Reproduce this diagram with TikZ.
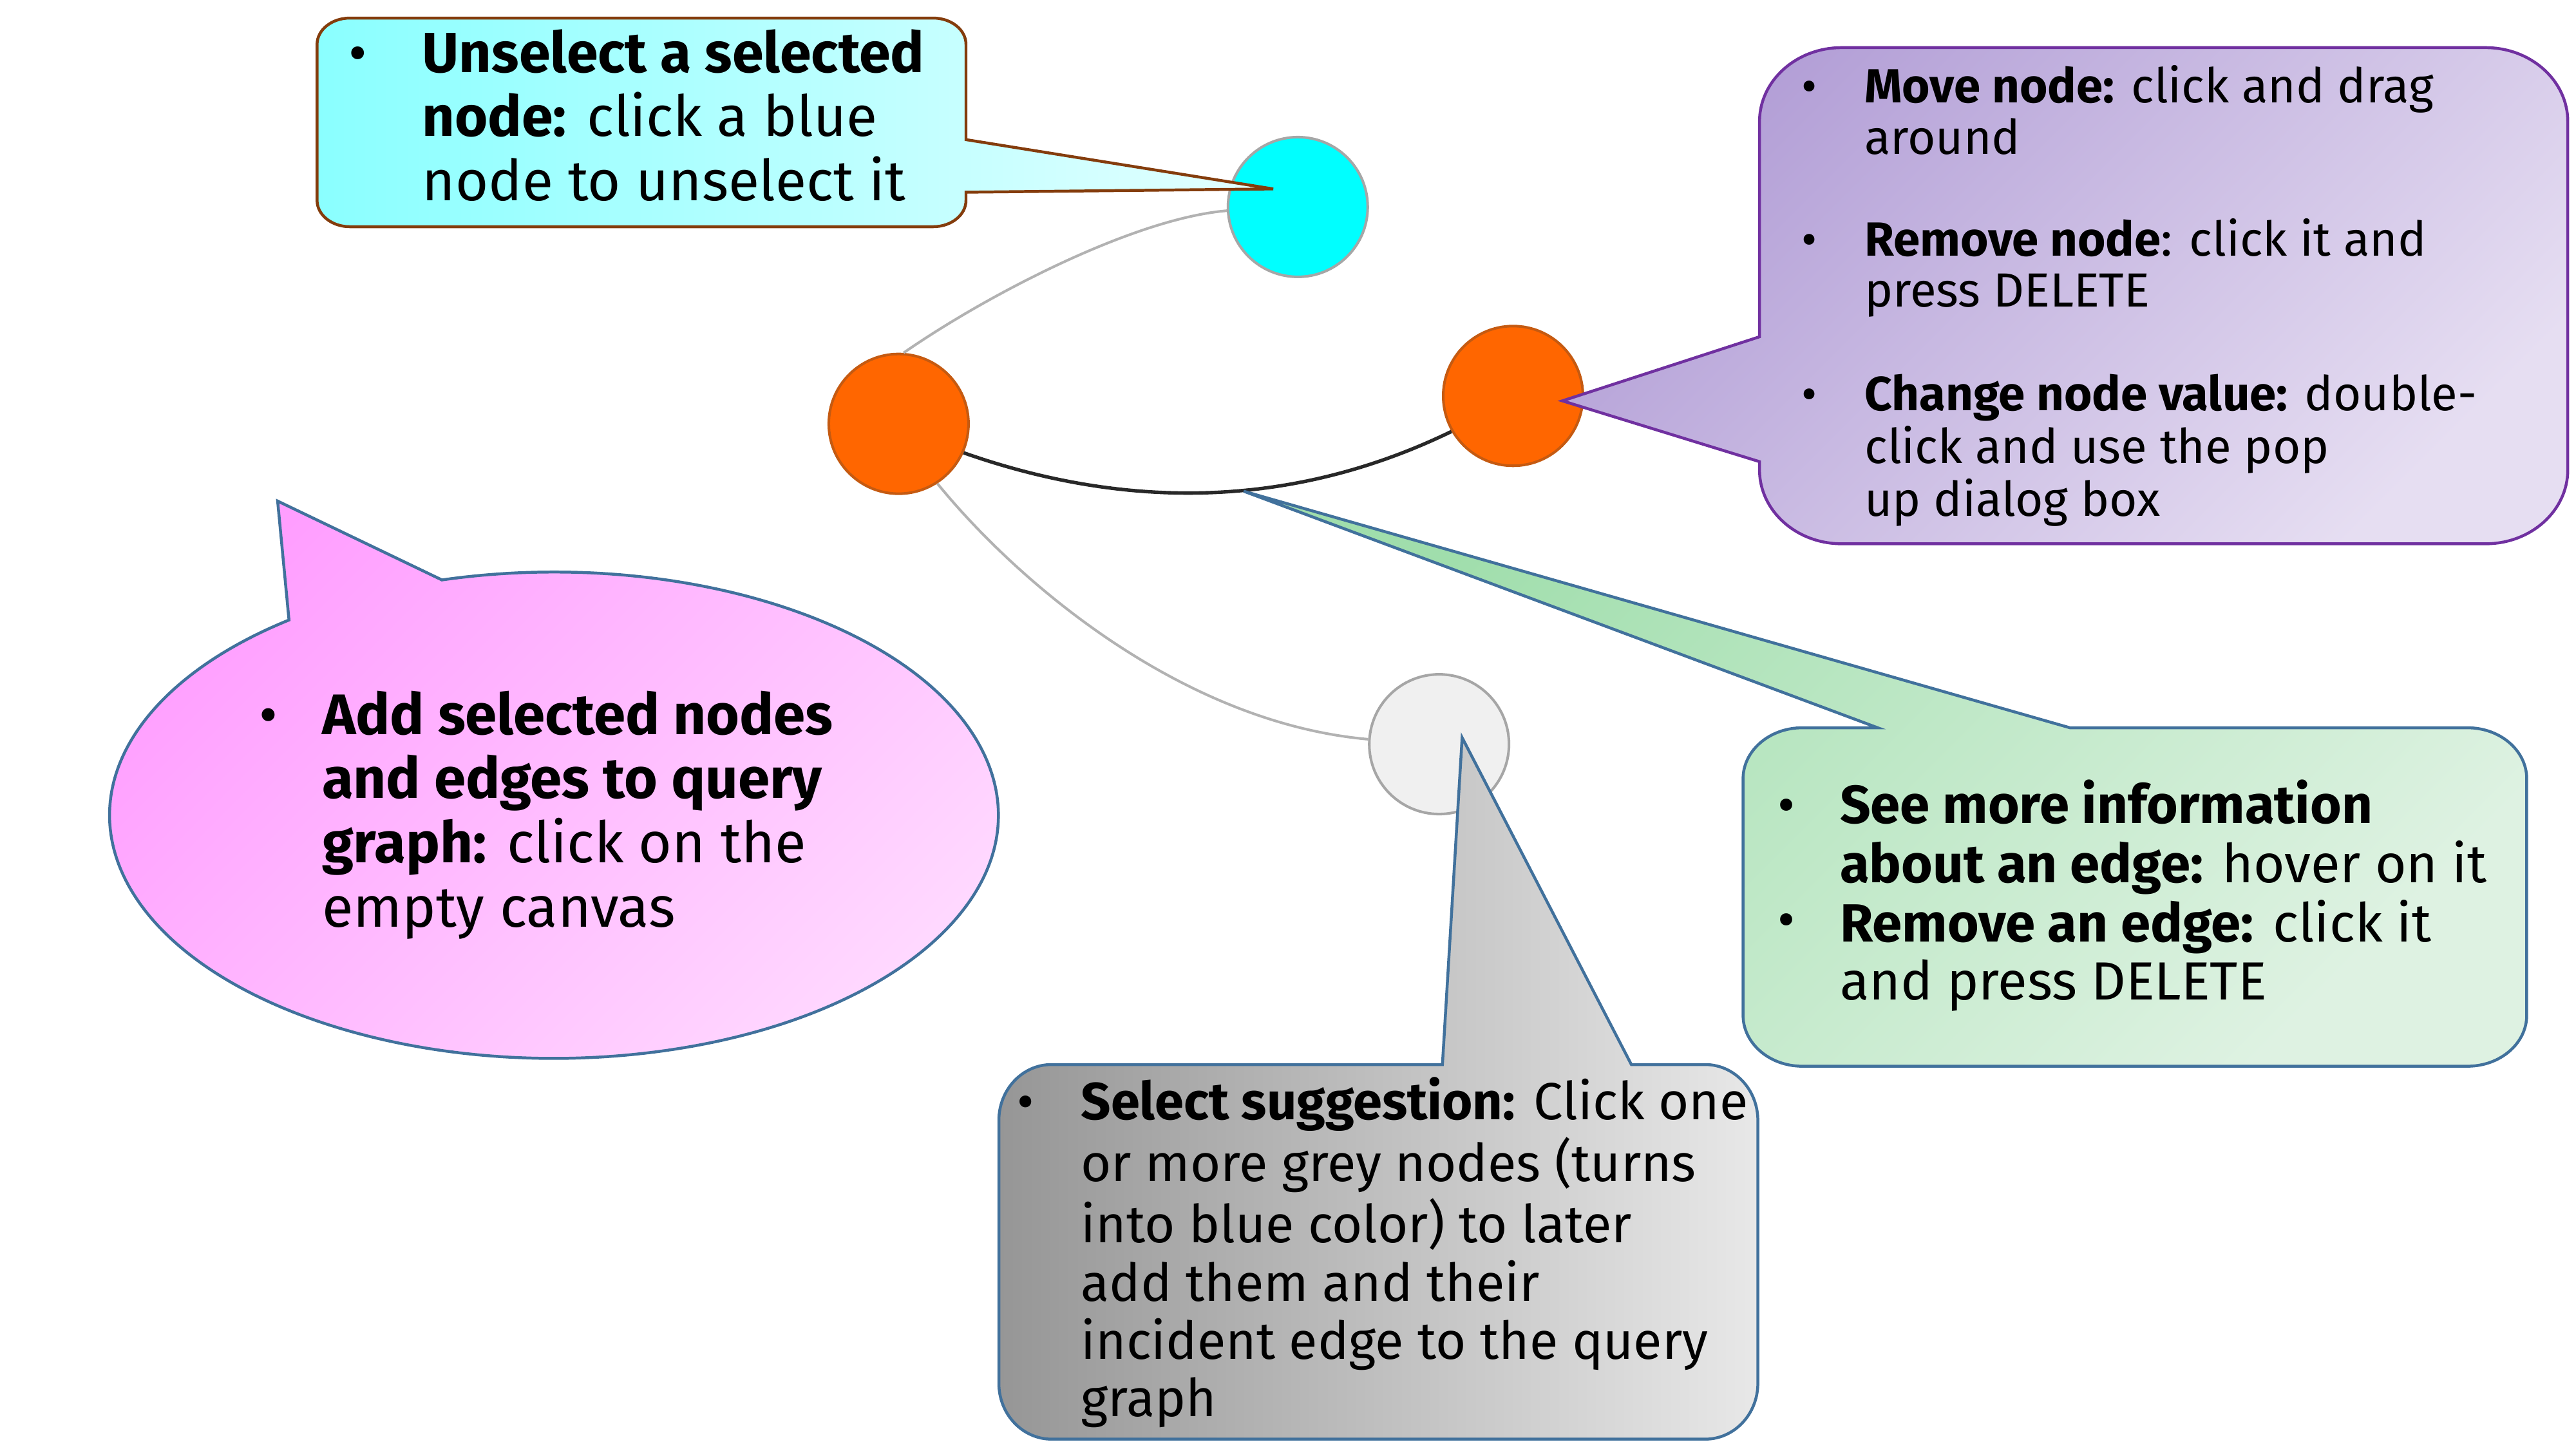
\documentclass[tikz,border=0pt]{standalone}
\usepackage{fontspec}
\setmainfont{Fira Sans}
\definecolor{cyF}{RGB}{0,255,255}
\definecolor{cyL}{RGB}{138,255,255}
\definecolor{cyR}{RGB}{228,255,255}
\definecolor{brownB}{RGB}{132,60,12}
\definecolor{puD}{RGB}{178,158,214}
\definecolor{puL}{RGB}{230,222,242}
\definecolor{puB}{RGB}{112,48,160}
\definecolor{grD}{RGB}{160,222,172}
\definecolor{grL}{RGB}{222,242,226}
\definecolor{blB}{RGB}{65,113,156}
\definecolor{piD}{RGB}{255,158,255}
\definecolor{piL}{RGB}{255,218,255}
\definecolor{gyD}{RGB}{150,150,150}
\definecolor{gyL}{RGB}{232,232,232}
\definecolor{orF}{RGB}{255,102,0}
\definecolor{orB}{RGB}{197,90,17}
\definecolor{ndB}{RGB}{166,166,166}
\definecolor{ndG}{RGB}{240,240,240}
\definecolor{edG}{RGB}{178,178,178}
\definecolor{edK}{RGB}{40,40,40}
\begin{document}
\begin{tikzpicture}[x=0.01cm,y=-0.01cm,
  gnode/.style={circle, inner sep=0pt, minimum size=0.85cm, line width=0.45pt},
  gedge/.style={draw=edG, line width=0.45pt},
  kedge/.style={draw=edK, line width=0.6pt},
  callout/.style={line width=0.5pt, line join=miter},
  txt/.style={anchor=base west, inner sep=0pt, outer sep=0pt},
  bul/.style={anchor=base, inner sep=0pt, outer sep=0pt}]
\useasboundingbox (0,0) rectangle (1568,882);
\fill[white] (0,0) rectangle (1568,882);

% graph nodes
\node[gnode, fill=cyF, draw=ndB] (cy) at (790,126) {};
\node[gnode, fill=orF, draw=orB] (o1) at (547,258) {};
\node[gnode, fill=orF, draw=orB] (o2) at (921,241) {};
\node[gnode, fill=ndG, draw=ndB] (gr) at (876,453) {};

% edges
\draw[gedge] (o1.86) .. controls (600,180) and (690,133) .. (cy.183);
\draw[kedge] (o1.336) .. controls (690,312) and (790,308) .. (o2.210);
\draw[gedge] (o1.303) .. controls (620,355) and (720,440) .. (gr.176);

% pointer tips
\coordinate (ctip) at (775,115);
\coordinate (ptip) at (951,244);
\coordinate (gtip) at (757,299);
\coordinate (ktip) at (169,305);
\coordinate (ytip) at (890,449);

% cyan callout
\draw[callout, draw=brownB, left color=cyL, right color=cyR]
  (193,27) arc[start angle=180, end angle=270, x radius=20, y radius=16]
  -- (568,11) arc[start angle=270, end angle=360, x radius=20, y radius=16]
  -- (588,85) -- (ctip) -- (588,117)
  -- (588,122) arc[start angle=0, end angle=90, x radius=20, y radius=16]
  -- (213,138) arc[start angle=90, end angle=180, x radius=20, y radius=16]
  -- cycle;

% purple callout
\draw[callout, draw=puB, top color=puD, bottom color=puL, shading angle=45]
  (1071,74) arc[start angle=180, end angle=270, x radius=50, y radius=45]
  -- (1513,29) arc[start angle=270, end angle=360, x radius=50, y radius=45]
  -- (1563,286) arc[start angle=0, end angle=90, x radius=50, y radius=45]
  -- (1121,331) arc[start angle=90, end angle=180, x radius=50, y radius=45]
  -- (1071,281) -- (ptip) -- (1071,205) -- cycle;

% green callout
\draw[callout, draw=blB, top color=grD, bottom color=grL, shading angle=45]
  (1061,474) arc[start angle=180, end angle=270, x radius=36, y radius=31]
  -- (1143,443) -- (gtip) -- (1260,443)
  -- (1502,443) arc[start angle=270, end angle=360, x radius=36, y radius=31]
  -- (1538,618) arc[start angle=0, end angle=90, x radius=36, y radius=31]
  -- (1097,649) arc[start angle=90, end angle=180, x radius=36, y radius=31]
  -- cycle;

% pink callout
\draw[callout, draw=blB, top color=piD, bottom color=piL, shading angle=45]
  (269,353) arc[start angle=255.4, end angle=593.4, x radius=270.5, y radius=148]
  -- (ktip) -- cycle;

% grey callout
\draw[callout, draw=blB, left color=gyD, right color=gyL]
  (608,682) arc[start angle=180, end angle=270, x radius=32, y radius=34]
  -- (878,648) -- (ytip) -- (993,648)
  -- (1038,648) arc[start angle=270, end angle=360, x radius=32, y radius=34]
  -- (1070,842) arc[start angle=0, end angle=90, x radius=32, y radius=34]
  -- (640,876) arc[start angle=90, end angle=180, x radius=32, y radius=34]
  -- cycle;

% texts
\begin{scope}[font=\fontsize{9.8}{11.1}\selectfont]
\node[bul] (cb1) at (218,44) {\textbullet};
\node[txt] (ct) at (257,44) {\begin{tabular}[t]{@{}l@{}}
\textbf{Unselect a selected}\\
\textbf{node:} click a blue\\
node to unselect it\end{tabular}};
\end{scope}

\begin{scope}[font=\fontsize{8.3}{8.8}\selectfont]
\node[bul] (pb1) at (1101.5,62.7) {\textbullet};
\node[bul] (pb2) at (1101.5,156) {\textbullet};
\node[bul] (pb3) at (1101.5,250) {\textbullet};
\node[txt] (pt1) at (1135,62.7) {\begin{tabular}[t]{@{}l@{}}
\textbf{Move node:} click and drag\\ around\end{tabular}};
\node[txt] (pt2) at (1135,156) {\begin{tabular}[t]{@{}l@{}}
\textbf{Remove node}: click it and\\ press DELETE\end{tabular}};
\node[txt] (pt3) at (1135,250) {\begin{tabular}[t]{@{}l@{}}
\textbf{Change node value:} double-\\ click and use the pop\\ up dialog box\end{tabular}};
\end{scope}

\begin{scope}[font=\fontsize{9.3}{10.04}\selectfont]
\node[bul] (gb1) at (1087.5,501) {\textbullet};
\node[bul] (gb2) at (1087.5,571) {\textbullet};
\node[txt] (gt) at (1120,501) {\begin{tabular}[t]{@{}l@{}}
\textbf{See more information}\\
\textbf{about an edge:} hover on it\\
\textbf{Remove an edge:} click it\\
and press DELETE\end{tabular}};
\end{scope}

\begin{scope}[font=\fontsize{9.9}{11.1}\selectfont]
\node[bul] (kb1) at (163.5,447) {\textbullet};
\node[txt] (kt) at (196,447) {\begin{tabular}[t]{@{}l@{}}
\textbf{Add selected nodes}\\
\textbf{and edges to query}\\
\textbf{graph:} click on the\\
empty canvas\end{tabular}};
\end{scope}

\begin{scope}[font=\fontsize{9.05}{10}\selectfont]
\node[bul] (yb1) at (624.5,681.6) {\textbullet};
\node[txt] (yt) at (658,681.6) {\begin{tabular}[t]{@{}l@{}}
\textbf{Select suggestion:} Click one\\
or more grey nodes (turns\\
into blue color) to later\\
add them and their\\
incident edge to the query\\
graph\end{tabular}};
\end{scope}
\end{tikzpicture}
\end{document}
